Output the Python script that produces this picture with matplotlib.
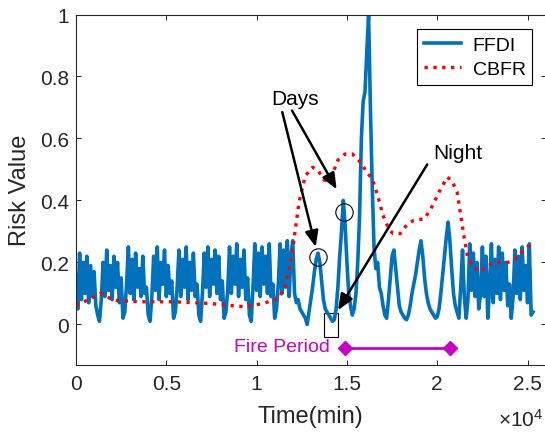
import numpy as np
import matplotlib
matplotlib.use("Agg")
import matplotlib.pyplot as plt
from matplotlib.patches import Rectangle

plt.rcParams['font.family'] = ['Liberation Sans', 'DejaVu Sans']
plt.rcParams['mathtext.fontset'] = 'custom'
plt.rcParams['mathtext.rm'] = 'Liberation Sans'

# FFDI sampled every 100 min, starting at t = 0
ffdi_step = 100
ffdi = [
    0.16, 0.05, 0.23, 0.08, 0.20, 0.10, 0.22, 0.07, 0.19, 0.09, 0.17, 0.06, 0.03,
    0.01, 0.08, 0.20, 0.09, 0.24, 0.11, 0.19, 0.08, 0.22, 0.12, 0.20, 0.07, 0.15, 0.02,
    0.04, 0.13, 0.25, 0.10, 0.21, 0.08, 0.23, 0.12, 0.18, 0.09, 0.22, 0.10, 0.12, 0.03,
    0.01, 0.09, 0.22, 0.11, 0.25, 0.08, 0.20, 0.13, 0.24, 0.09, 0.19, 0.10, 0.14, 0.02,
    0.04, 0.12, 0.24, 0.09, 0.21, 0.12, 0.25, 0.08, 0.20, 0.11, 0.23, 0.09, 0.13, 0.03,
    0.01, 0.10, 0.23, 0.12, 0.25, 0.09, 0.21, 0.13, 0.24, 0.10, 0.22, 0.08, 0.14, 0.02,
    0.04, 0.11, 0.25, 0.10, 0.22, 0.13, 0.26, 0.09, 0.21, 0.12, 0.24, 0.08, 0.15, 0.03,
    0.01, 0.12, 0.26, 0.11, 0.23, 0.09, 0.25, 0.13, 0.22, 0.10, 0.26, 0.09, 0.13, 0.02,
    0.05, 0.13, 0.26, 0.10, 0.24, 0.12, 0.27, 0.09, 0.22,
    # 12000 ->
    0.27, 0.10, 0.07, 0.08, 0.05, 0.04, 0.03, 0.02, 0.00, 0.04,
    0.08, 0.12, 0.17, 0.21, 0.23, 0.20, 0.14, 0.08, 0.05, 0.04,
    0.03, 0.02, 0.01, 0.015, 0.05, 0.12, 0.22, 0.30, 0.40, 0.32,
    0.20, 0.10, 0.06, 0.03, 0.05, 0.10, 0.20, 0.35, 0.60, 0.72,
    0.75, 0.88, 1.00, 0.70, 0.45, 0.25, 0.18, 0.20, 0.12, 0.10,
    0.06, 0.03, 0.02, 0.08, 0.15, 0.22, 0.24, 0.18, 0.12, 0.06,
    0.04, 0.03, 0.02, 0.015, 0.03, 0.06, 0.10, 0.13, 0.16, 0.20,
    0.24, 0.27, 0.22, 0.15, 0.10, 0.07, 0.05, 0.04, 0.03, 0.02,
    0.025, 0.05, 0.10, 0.16, 0.22, 0.28, 0.33, 0.27, 0.18, 0.10,
    0.06, 0.04, 0.02,
    # 21300 ->
    0.12, 0.24, 0.09, 0.02, 0.08, 0.26, 0.11, 0.23, 0.09, 0.20,
    0.05, 0.10, 0.25, 0.09, 0.22, 0.02, 0.12, 0.26, 0.07, 0.21,
    0.10, 0.25, 0.08, 0.23, 0.11, 0.20, 0.06, 0.13, 0.02, 0.09,
    0.24, 0.10, 0.22, 0.08, 0.25, 0.11, 0.19, 0.07, 0.26, 0.03,
    0.04,
]
ffdi_t = np.arange(len(ffdi)) * ffdi_step

cbfr_t = [0, 700, 1350, 2100, 3500, 5400, 7300, 9300, 10400, 11200,
          11550, 11850, 12050, 12350, 12700, 13100, 13400, 13750, 14100, 14500,
          14900, 15300, 15800, 16100, 16400, 16700, 17000, 17300, 17550, 17950,
          18300, 18700, 19300, 19700, 20100, 20550, 20800, 21100, 21300, 21500,
          21700, 22000, 22300, 22600, 23000, 23500, 23900, 24300, 24700, 25100]
cbfr = [0.062, 0.08, 0.10, 0.078, 0.073, 0.073, 0.068, 0.057, 0.068, 0.084,
        0.116, 0.19, 0.266, 0.395, 0.48, 0.507, 0.497, 0.465, 0.47, 0.53,
        0.55, 0.55, 0.52, 0.49, 0.47, 0.416, 0.352, 0.31, 0.293, 0.293,
        0.32, 0.336, 0.341, 0.379, 0.427, 0.475, 0.465, 0.427, 0.352, 0.277,
        0.212, 0.19, 0.17, 0.18, 0.196, 0.2, 0.2, 0.21, 0.234, 0.255]

fire_t = [14900, 20700]
fire_v = [-0.075, -0.075]

xticks = [0, 5000, 10000, 15000, 20000, 25000]
xticklabels = ['0', '0.5', '1', '1.5', '2', '2.5']
yticks = [0, 0.2, 0.4, 0.6, 0.8, 1]
yticklabels = ['0', '0.2', '0.4', '0.6', '0.8', '1']

fig = plt.figure(figsize=(5.45, 4.35), dpi=100)
ax = fig.add_axes([76 / 545, 69.3 / 435, 469.6 / 545, 350.2 / 435])

ax.plot(ffdi_t, ffdi, color='#0072BD', lw=2.6, label='FFDI')
ax.plot(cbfr_t, cbfr, color='red', lw=2.4, ls=':', label='CBFR')

ax.set_xlim(0, 26000)
ax.set_ylim(-0.13, 1)
ax.set_xticks(xticks)
ax.set_xticklabels(xticklabels)
ax.set_yticks(yticks)
ax.set_yticklabels(yticklabels)

ax.tick_params(direction='in', length=3.5, width=0.7, colors='#262626',
               labelsize=15, top=True, right=True)
ax.tick_params(axis='x', pad=7)
ax.tick_params(axis='y', pad=5)
for s in ax.spines.values():
    s.set_color('#262626')
    s.set_linewidth(0.8)

ax.set_xlabel('Time(min)', fontsize=17, color='#262626')
ax.set_ylabel('Risk Value', fontsize=17, color='#262626')
ax.xaxis.set_label_coords(0.5, -0.115)
ax.yaxis.set_label_coords(-0.095, 0.5)

fig.text(543 / 545, 4 / 435, r'$\mathregular{\times10^{4}}$', ha='right', va='bottom',
         fontsize=15, color='#262626')

leg = ax.legend(loc='upper right', bbox_to_anchor=(0.9717, 0.9577), borderaxespad=0,
                fontsize=14, fancybox=False, framealpha=1, edgecolor='black',
                handlelength=1.9, borderpad=0.35, handletextpad=0.6, labelspacing=0.35)
leg.get_frame().set_linewidth(0.8)

# annotations
arrow = dict(arrowstyle='-|>,head_length=0.6,head_width=0.25', color='black', lw=1.8,
             shrinkA=0, shrinkB=0, mutation_scale=16)
ax.text(12150, 0.73, 'Days', fontsize=15, ha='center', va='center')
ax.annotate('', xy=(13272, 0.25), xytext=(11420, 0.685), arrowprops=arrow)
ax.annotate('', xy=(14429, 0.436), xytext=(11960, 0.69), arrowprops=arrow)
ax.plot([13407], [0.216], 'o', ms=12.5, mfc='none', mec='black', mew=0.8)
ax.plot([14853], [0.363], 'o', ms=12.5, mfc='none', mec='black', mew=0.8)

ax.text(21160, 0.554, 'Night', fontsize=15, ha='center', va='center')
ax.annotate('', xy=(14506, 0.046), xytext=(19445, 0.516), arrowprops=arrow)
ax.add_patch(Rectangle((13750, -0.04), 780, 0.078, fill=False, ec='black', lw=0.8))

ax.plot(fire_t, fire_v, color='#C800C8', lw=2, marker='D', ms=7)
ax.text(14050, -0.072, 'Fire Period', fontsize=14, color='#C800C8', ha='right', va='center')

fig.savefig('out.png', dpi=100)
